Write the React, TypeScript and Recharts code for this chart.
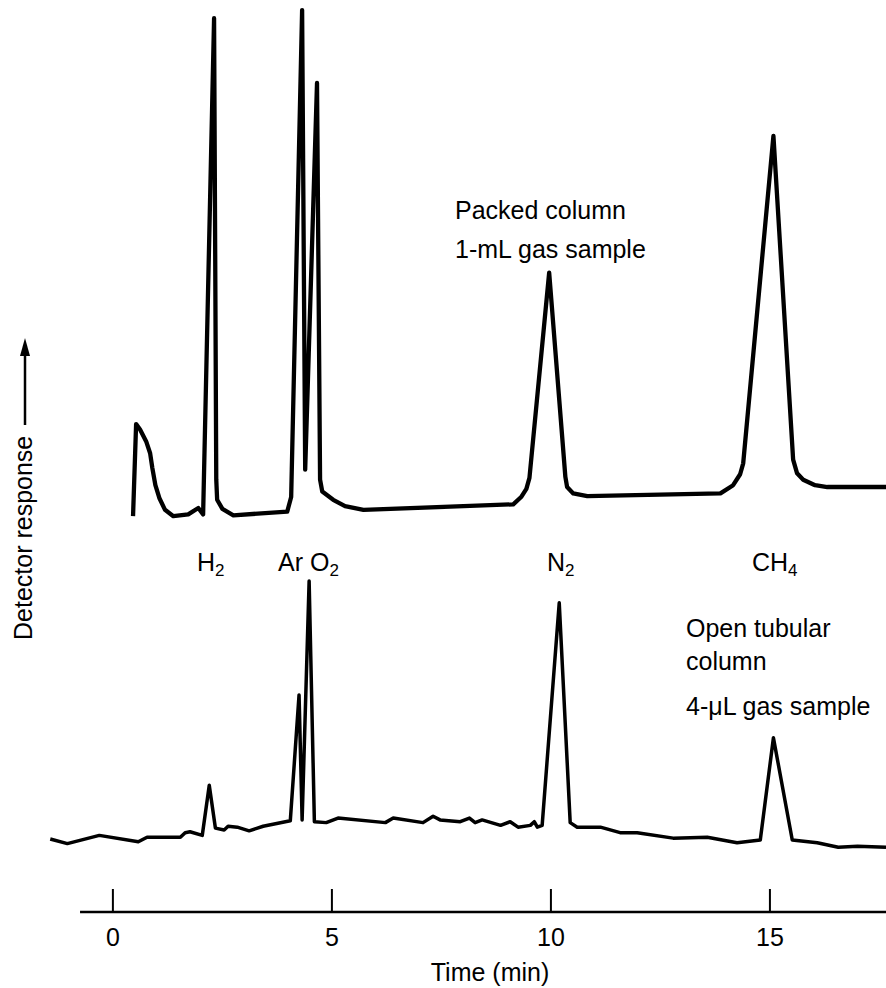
import React from 'react';
import { LineChart, Line, XAxis, YAxis, ReferenceLine } from 'recharts';

// Upper trace: packed column, 1-mL gas sample (time in min, response in arbitrary units)
const packedTime = [
  0.46, 0.53, 0.62, 0.76, 0.85, 0.9, 0.97, 1.06, 1.19, 1.38,
  1.72, 1.95, 2.06, 2.31, 2.36, 2.38, 2.5, 2.75, 3.98, 4.07,
  4.32, 4.39, 4.66, 4.73, 4.78, 5.03, 5.3, 5.72, 9.14, 9.32,
  9.44, 9.51, 9.96, 10.33, 10.37, 10.51, 10.83, 13.87, 14.16, 14.32,
  14.39, 15.08, 15.53, 15.62, 15.76, 16.03, 16.31, 17.65,
];
const packedResponse = [
  43.4, 53.5, 52.9, 51.6, 50.3, 48.7, 46.8, 45.4, 44.1, 43.4,
  43.6, 44.3, 43.6, 98.0, 47.4, 45.2, 44.2, 43.5, 43.9, 45.5,
  98.9, 48.5, 90.9, 47.4, 46.1, 45.2, 44.5, 44.1, 44.7, 45.5,
  46.4, 47.6, 70.1, 47.7, 46.6, 45.9, 45.6, 45.9, 46.8, 48.0,
  49.2, 85.1, 49.6, 48.1, 47.4, 46.8, 46.6, 46.6,
];

// Lower trace: open tubular column, 4-uL gas sample
const tubularTime = [
  -1.43, -1.04, -0.31, 0.58, 0.78, 1.54, 1.65, 1.76, 2.04, 2.2,
  2.34, 2.54, 2.63, 2.84, 3.11, 3.43, 4.05, 4.25, 4.32, 4.48,
  4.6, 4.87, 5.14, 6.22, 6.4, 7.08, 7.31, 7.47, 7.93, 8.14,
  8.27, 8.43, 8.85, 9.07, 9.25, 9.53, 9.62, 9.69, 9.8, 10.19,
  10.44, 10.6, 11.13, 11.58, 11.97, 12.79, 13.57, 14.25, 14.78, 15.08,
  15.51, 16.08, 16.56, 17.0, 17.65,
];
const tubularResponse = [
  8.0, 7.5, 8.4, 7.7, 8.2, 8.2, 8.7, 8.8, 8.4, 13.9,
  9.2, 9.0, 9.4, 9.3, 8.9, 9.4, 10.0, 23.8, 10.1, 36.3,
  9.9, 9.8, 10.3, 9.8, 10.3, 9.8, 10.5, 10.1, 9.9, 10.3,
  9.8, 10.1, 9.5, 9.9, 9.3, 9.5, 9.9, 9.3, 9.5, 33.9,
  9.8, 9.3, 9.3, 8.7, 8.7, 8.1, 8.2, 7.6, 7.9, 19.1,
  7.9, 7.6, 7.1, 7.2, 7.1,
];

const timeTicks = [0, 5, 10, 15];
const timeDomain = [-1.55, 17.65];
const axisStart = -0.75;

const packed = packedTime.map((t, i) => ({ t, v: packedResponse[i] }));
const tubular = tubularTime.map((t, i) => ({ t, v: tubularResponse[i] }));

const FONT = '"Liberation Sans", Arial, Helvetica, sans-serif';

function TimeTick({ x, y, payload }: any) {
  return (
    <g>
      <line x1={x} x2={x} y1={y - 23} y2={y} stroke="#000" strokeWidth={2} />
      <text x={x} y={y + 34} textAnchor="middle" fontSize={25} fontFamily={FONT} fill="#000">
        {payload.value}
      </text>
    </g>
  );
}

function Sub({ children }: { children: React.ReactNode }) {
  return <tspan dy={5} fontSize={17}>{children}</tspan>;
}

export default function App() {
  return (
    <div style={{ position: 'absolute', left: 0, top: 0, width: 886, height: 988, background: '#fff' }}>
      <LineChart width={886} height={988} margin={{ top: 0, right: 0, bottom: 0, left: 45 }}>
        <XAxis
          dataKey="t"
          type="number"
          domain={timeDomain}
          ticks={timeTicks}
          allowDataOverflow
          axisLine={false}
          tickLine={false}
          tickSize={0}
          tickMargin={0}
          height={76}
          tick={<TimeTick />}
        />
        <YAxis type="number" domain={[0, 100]} hide allowDataOverflow />
        <ReferenceLine
          segment={[{ x: axisStart, y: 0 }, { x: timeDomain[1], y: 0 }]}
          stroke="#000"
          strokeWidth={2.5}
          ifOverflow="visible"
        />
        <Line
          data={packed}
          dataKey="v"
          type="linear"
          stroke="#000"
          strokeWidth={4.3}
          strokeLinejoin="round"
          dot={false}
          isAnimationActive={false}
        />
        <Line
          data={tubular}
          dataKey="v"
          type="linear"
          stroke="#000"
          strokeWidth={3.5}
          strokeLinejoin="round"
          dot={false}
          isAnimationActive={false}
        />
      </LineChart>
      <svg
        width={886}
        height={988}
        style={{ position: 'absolute', left: 0, top: 0, pointerEvents: 'none' }}
        fontFamily={FONT}
        fontSize={25}
        fill="#000"
      >
        <text x={455} y={219}>Packed column</text>
        <text x={455} y={258}>1-mL gas sample</text>
        <text x={197} y={571}>H<Sub>2</Sub></text>
        <text x={278} y={571}>Ar O<Sub>2</Sub></text>
        <text x={547} y={571}>N<Sub>2</Sub></text>
        <text x={752} y={571}>CH<Sub>4</Sub></text>
        <text x={686} y={637}>Open tubular</text>
        <text x={686} y={670}>column</text>
        <text x={686} y={715}>4-μL gas sample</text>
        <text x={490} y={981} textAnchor="middle">Time (min)</text>
        <g transform="translate(32, 640) rotate(-90)">
          <text x={0} y={0}>Detector response</text>
          <line x1={215} x2={290} y1={-7} y2={-7} stroke="#000" strokeWidth={2.5} />
          <path d="M 302 -7 L 284 -12 L 284 -2 Z" fill="#000" />
        </g>
      </svg>
    </div>
  );
}
